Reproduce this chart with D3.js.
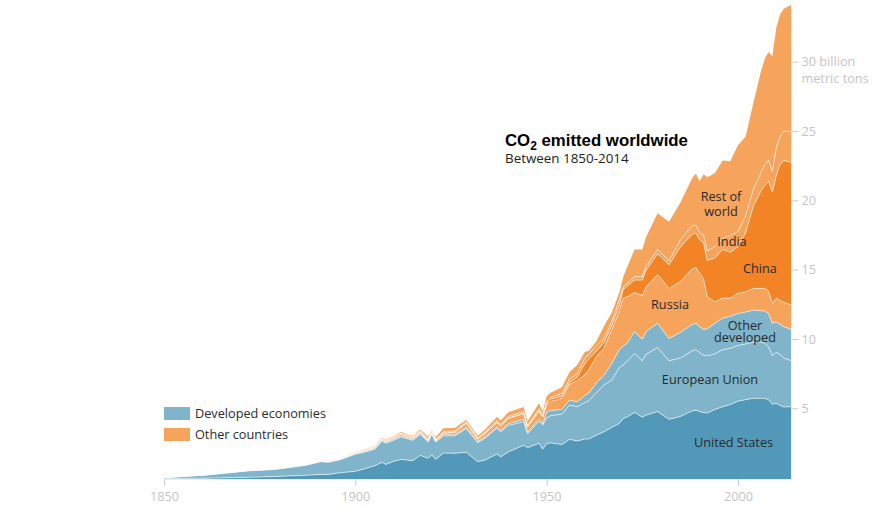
<!DOCTYPE html>
<html>
<head>
<meta charset="utf-8">
<script src="https://cdn.jsdelivr.net/npm/d3@7"></script>
<style>
  html, body { margin: 0; padding: 0; background: #fff; }
  svg { display: block; font-family: "Liberation Sans", Arial, sans-serif; }
  .axis text { fill: #c4c4c4; font-size: 12.7px; font-family: "Open Sans", sans-serif; }
  .axis line { stroke: #ccc; }
  .axis path { display: none; }
  .label { fill: #2a2a2a; font-size: 12.7px; text-anchor: middle; font-family: "Open Sans", sans-serif; }
</style>
</head>
<body>
<svg id="chart" width="896" height="519"></svg>
<script>
// Years (only where the outline changes direction)
const years = [1850,1861,1872,1879,1887,1891,1893,1896,1900,1902,1905,1907,1908,1910,1912,1915,1917,1919,1920,1921,1923,1926,1929,1932,1934,1937,1938,1940,1944,1945,1948,1949,1950,1951,1954,1956,1958,1960,1961,1963,1965,1967,1969,1970,1971,1973,1975,1976,1979,1982,1985,1988,1989,1990,1991,1992,1994,1996,1998,2000,2002,2004,2006,2007,2008,2009,2010,2011,2012,2014];

// Top edge of each band in billion metric tons, running total as seen on the chart
const unitedStates = [.03,.06,.12,.18,.27,.33,.33,.45,.55,.7,.95,1.2,1.05,1.27,1.41,1.32,1.7,1.49,1.73,1.41,1.87,1.85,1.92,1.25,1.37,1.8,1.6,1.95,2.42,2.25,2.57,2.15,2.55,2.6,2.48,2.85,2.73,2.87,2.87,3.15,3.4,3.7,4,4.35,4.45,4.78,4.45,4.6,4.85,4.29,4.5,4.9,4.95,4.85,4.77,4.75,5,5.2,5.35,5.6,5.7,5.8,5.8,5.8,5.7,5.37,5.44,5.3,5.18,5.2];
const europeanUnion = [.1,.28,.58,.68,.98,1.24,1.2,1.38,1.78,1.9,2.13,2.72,2.58,2.78,3.03,2.78,3.22,2.65,3.22,2.65,3.1,3.1,3.62,2.6,2.95,3.65,3.4,3.85,4.12,3.25,4.15,3.88,4.4,4.55,4.67,5.32,5.2,5.5,5.63,6.2,6.75,7.1,8,8.2,8.44,9.03,8.5,8.97,9.45,8.5,8.7,9.2,9.3,9.1,8.9,8.85,9,9.3,9.4,9.6,9.7,9.85,9.85,9.75,9.5,8.87,9.1,8.95,8.7,8.5];
const otherDeveloped = [.1,.29,.6,.71,1,1.27,1.23,1.41,1.82,1.95,2.19,2.78,2.64,2.85,3.1,2.85,3.28,2.7,3.28,2.7,3.18,3.18,3.72,2.69,3.04,3.76,3.5,3.98,4.29,3.36,4.32,3.98,4.8,4.93,5,5.67,5.55,6,6.16,6.9,7.45,8.3,9.3,9.55,9.75,10.6,10.05,10.6,11.2,10.1,10.55,11.1,11.2,10.95,10.75,10.8,11.2,11.55,11.7,11.9,12,12.15,12.1,12.07,11.9,11.2,11.3,11.1,10.95,10.75];
const russia = [.11,.3,.62,.73,1.03,1.31,1.27,1.46,1.88,2.02,2.27,2.87,2.73,2.95,3.22,2.95,3.38,2.8,3.36,2.78,3.3,3.35,4,2.85,3.28,4.05,3.8,4.35,4.7,3.72,4.85,4.45,5.3,5.56,5.8,6.8,7.07,7.5,7.84,8.8,9.4,10.7,12.1,13,13.1,13.4,13.2,13.8,14.7,13.7,14.2,15.1,15.2,14.8,14.4,13.1,12.75,13,13,13.35,13.45,13.7,13.7,13.7,13.5,12.6,13,12.85,12.7,12.5];
const china = [.11,.3,.62,.73,1.03,1.31,1.27,1.46,1.88,2.02,2.27,2.87,2.73,2.95,3.22,2.95,3.38,2.8,3.36,2.78,3.3,3.35,4.02,2.87,3.3,4.08,3.83,4.38,4.73,3.75,4.9,4.5,5.4,5.73,5.97,6.95,7.31,8.3,8.6,9.2,9.8,11,12.5,13.6,13.85,14.3,14.3,15,16.2,15.4,16.7,17.6,17.66,17.2,17,15.7,15.9,16.5,16.3,16.7,17.7,19.6,20.7,21.1,21.4,20.65,21.8,22.6,22.9,22.75];
const india = [.12,.31,.63,.74,1.04,1.33,1.29,1.49,1.92,2.07,2.33,2.93,2.8,3.03,3.3,3.03,3.46,2.9,3.44,2.85,3.4,3.45,4.12,2.95,3.4,4.2,3.95,4.5,4.85,3.85,5.05,4.62,5.55,5.87,6.16,7.2,7.6,8.7,8.95,9.6,10.1,11.3,12.9,13.8,14.05,14.55,14.55,15.3,16.5,15.7,17.2,18.2,18.25,17.7,17.55,16.4,16.7,17.3,17.5,17.8,18.9,20.8,22,22.6,22.9,22.1,23.8,24.6,25,25];
const restOfWorld = [.12,.31,.64,.75,1.05,1.34,1.3,1.5,1.95,2.1,2.37,2.98,2.85,3.08,3.38,3.1,3.55,3.05,3.5,3,3.64,3.66,4.26,3.1,3.6,4.46,4.2,4.8,5.18,4.15,5.44,4.84,5.95,6.2,6.6,7.7,8.2,9.15,9.2,9.9,11,11.95,13.4,14.5,15.2,16.5,16.5,17.4,19.1,18.5,19.9,21.6,21.97,21.4,21.9,21.7,22,22.9,22.85,24,24.6,27,29.3,30.2,30.7,30.4,32.4,33.4,33.8,34.1];

// Bottom to top
const bands = [unitedStates, europeanUnion, otherDeveloped, russia, china, india, restOfWorld];
const colorUS = "#5299b9";
const colorDeveloped = "#7fb4ca";
const colorOther = "#f6a35c";
const colorChina = "#f28426";
const bandColors = [colorUS, colorDeveloped, colorDeveloped, colorOther, colorChina, colorOther, colorOther];

const xTicks = [1850, 1900, 1950, 2000];
const yTicks = [5, 10, 15, 20, 25, 30];
const legendLabels = ["Developed economies", "Other countries"];
const legendColors = [colorDeveloped, colorOther];

const svg = d3.select("#chart");

const x = d3.scaleLinear().domain([1850, 2014]).range([164, 791.5]);
const y = d3.scaleLinear().domain([0, 30]).range([479, 61.7]);
// The ticks in the picture sit about a pixel above the bands' scale at the low end
const yTickScale = d3.scaleLinear().domain([5, 30]).range([408.3, 61.7]);

// Pale line under the chart
svg.append("line")
    .attr("x1", x(1850)).attr("x2", x(2014))
    .attr("y1", y(0) + 0.5).attr("y2", y(0) + 0.5)
    .attr("stroke", "#e4f0f5");

// Bands
bands.forEach(function(band, b) {
    const lower = b > 0 ? bands[b - 1] : null;
    const area = d3.area()
        .x((d, i) => x(years[i]))
        .y0((d, i) => lower ? y(lower[i]) : y(0))
        .y1(d => y(d));
    svg.append("path")
        .attr("d", area(band))
        .attr("fill", bandColors[b]);
});

// Thin lines between the bands, not on the outer edge
const line = d3.line().x((d, i) => x(years[i])).y(d => y(d));
bands.slice(0, 6).forEach(function(band) {
    svg.append("path")
        .attr("d", line(band))
        .attr("fill", "none")
        .attr("stroke", "#fff")
        .attr("stroke-opacity", 0.6)
        .attr("stroke-width", 1);
});

// Pale edge at the end of the chart
svg.append("line")
    .attr("x1", x(2014)).attr("x2", x(2014))
    .attr("y1", y(0)).attr("y2", y(34.1))
    .attr("stroke", "#fdeedd");

// Axes
svg.append("g")
    .attr("class", "axis")
    .attr("transform", `translate(0,${y(0)})`)
    .call(d3.axisBottom(x).tickValues(xTicks).tickFormat(d3.format("d")).tickSize(7).tickPadding(6));

const yAxis = svg.append("g")
    .attr("class", "axis")
    .attr("transform", `translate(${x(2014)},0)`)
    .call(d3.axisRight(yTickScale).tickValues(yTicks).tickFormat(d => d == 30 ? "30 billion" : d).tickSize(7).tickPadding(3));

yAxis.append("text")
    .attr("x", 10)
    .attr("y", yTickScale(30) + 21)
    .attr("text-anchor", "start")
    .text("metric tons");

// Band names
const labels = [
    ["Rest of", 721, 201], ["world", 721, 216], ["India", 732, 246], ["China", 760, 273],
    ["Russia", 670, 309], ["Other", 745, 330], ["developed", 745, 342],
    ["European Union", 710, 384], ["United States", 733.5, 447]
];
svg.selectAll(".label")
    .data(labels)
    .enter()
    .append("text")
    .attr("class", "label")
    .attr("x", d => d[1])
    .attr("y", d => d[2])
    .text(d => d[0]);

// Legend
legendLabels.forEach(function(name, i) {
    svg.append("rect")
        .attr("x", 164).attr("y", 407 + i * 21)
        .attr("width", 26).attr("height", 13)
        .attr("fill", legendColors[i]);
    svg.append("text")
        .attr("x", 195).attr("y", 418 + i * 21)
        .attr("fill", "#2a2a2a")
        .style("font-size", "12.7px")
        .style("font-family", '"Open Sans", sans-serif')
        .text(name);
});

// Title
const title = svg.append("text")
    .attr("x", 505).attr("y", 146)
    .attr("fill", "#000")
    .style("font-size", "16.8px")
    .style("font-weight", "bold");
title.append("tspan").text("CO");
title.append("tspan").attr("dy", 4).style("font-size", "12px").text("2");
title.append("tspan").attr("dy", -4).text(" emitted worldwide");

svg.append("text")
    .attr("x", 505).attr("y", 163)
    .attr("fill", "#222")
    .style("font-size", "13.4px")
    .style("font-family", '"Open Sans", sans-serif')
    .text("Between 1850-2014");
</script>
</body>
</html>
